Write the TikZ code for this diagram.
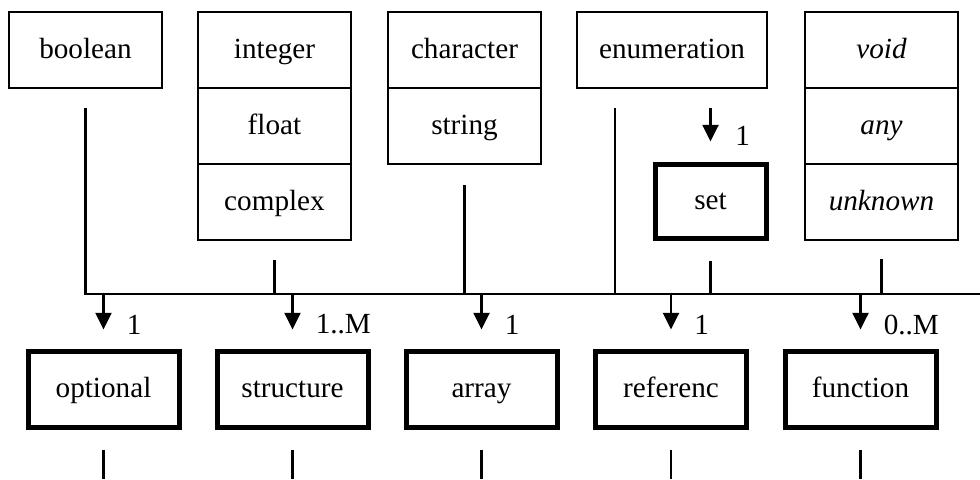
\documentclass[tikz,border=0pt]{standalone}
\usepackage{fontspec}
\setmainfont{Liberation Serif}
\usetikzlibrary{arrows.meta,calc}

\begin{document}
\begin{tikzpicture}[x=0.75pt,y=-0.75pt,
  every node/.style={font=\fontsize{21.9pt}{26pt}\selectfont},
  typebox/.style={draw, line width=1.6pt, rectangle, inner sep=0pt,
    text height=16pt, text depth=3.5pt,
    minimum width=114.75pt, minimum height=57pt},
  kindbox/.style={draw, line width=3.75pt, rectangle, inner sep=0pt,
    text height=16pt, text depth=3.5pt,
    minimum width=113.25pt, minimum height=57pt},
  link/.style={line width=1.75pt},
  flow/.style={link, -{Triangle[width=12pt,length=12.5pt]}},
  card/.style={anchor=west, inner sep=0pt}]

\useasboundingbox (0,0) rectangle (980,479);

% primitive types
\node[typebox] (boolean) at (85.5,50) {boolean};
\node[typebox] (integer) at (274.5,50) {integer};
\node[typebox] (float) at (274.5,126) {float};
\node[typebox] (complex) at (274.5,202) {complex};
\node[typebox] (character) at (464.5,50) {character};
\node[typebox] (string) at (464.5,126) {string};
\node[typebox, minimum width=142.5pt] (enumeration) at (672,50) {enumeration};
\node[typebox] (void) at (881.5,50) {\itshape void};
\node[typebox] (any) at (881.5,126) {\itshape any};
\node[typebox] (unknown) at (881.5,202) {\itshape unknown};

% set of enumerations
\node[kindbox, minimum width=83.25pt, minimum height=55.5pt] (set) at (710.5,201) {set};

% composite kinds
\node[kindbox] (optional) at (103.5,389) {optional};
\node[kindbox] (structure) at (292.5,389) {structure};
\node[kindbox] (array) at (481.5,389) {array};
\node[kindbox] (referenc) at (671,389) {referenc};
\node[kindbox] (function) at (860.5,389) {function};

% helper points
\coordinate (busR) at (980,294);
\coordinate (floor) at (0,479);
\coordinate (enumTap) at ($(enumeration.south west)+(39,0)$);

% feeds into the common bus
\draw[link, shorten <=14.25pt] (boolean.south) |- (busR);
\draw[link, shorten <=14.25pt] (complex.south) -- (complex.south |- busR);
\draw[link, shorten <=15pt] (string.south) -- (string.south |- busR);
\draw[link, shorten <=14.25pt] (enumTap) -- (enumTap |- busR);
\draw[link, shorten <=15pt] (set.south) -- (set.south |- busR);
\draw[link, shorten <=13.5pt] (unknown.south) -- (unknown.south |- busR);

% enumeration -> set
\draw[flow, shorten <=14.25pt, shorten >=15pt] (enumeration.south -| set.north) -- (set.north);
\node[card] at ($(set.north)+(24.5,-26)$) {1};

% bus -> composite kinds
\foreach \k/\m in {optional/1, structure/1..M, array/1, referenc/1, function/0..M}{
  \draw[flow, shorten >=14.25pt] (\k.north |- busR) -- (\k.north);
  \node[card] at ($(\k.north)+(23,-24)$) {\m};
  \draw[link, shorten <=15pt] (\k.south) -- (\k.south |- floor);
}
\end{tikzpicture}
\end{document}
